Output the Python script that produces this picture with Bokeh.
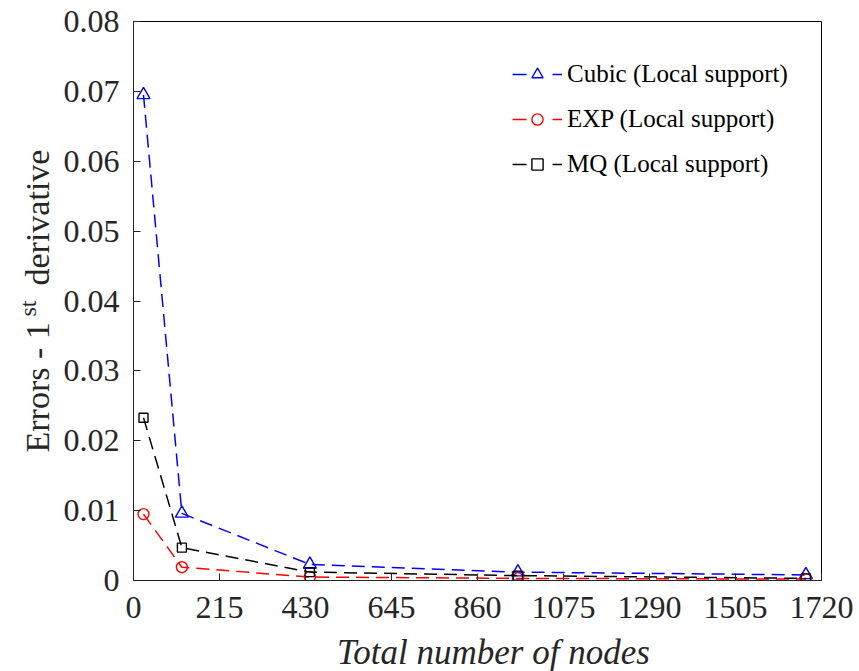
import math
from bokeh.plotting import figure
from bokeh.layouts import row, column
from bokeh.models import (FixedTicker, NumeralTickFormatter, Legend, LegendItem,
                          ColumnDataSource, Range1d)
from bokeh.core.properties import value
from bokeh.embed import file_html
from bokeh.resources import INLINE

# ---- data ----
nodes = [25, 121, 441, 961, 1681]
cubic = [0.0695, 0.0096, 0.0023, 0.0012, 0.0008]
expo = [0.0095, 0.0019, 0.0005, 0.0003, 0.0002]
mq = [0.0233, 0.0047, 0.0012, 0.0007, 0.0003]
x_ticks = [0, 215, 430, 645, 860, 1075, 1290, 1505, 1720]
y_ticks = [0, 0.01, 0.02, 0.03, 0.04, 0.05, 0.06, 0.07, 0.08]
labels = ["Cubic (Local support)", "EXP (Local support)", "MQ (Local support)"]
x_title = "Total number of nodes"
y_title_parts = ["Errors - 1", "st", "derivative"]

FONT = "Liberation Serif"
AX = "#262626"
W, H = 859, 671
LEFT_W = 60          # width of the y-title strip
BOTTOM_H = 39        # height of the x-title strip


def bare(fig):
    fig.axis.visible = False
    fig.xgrid.visible = False
    fig.ygrid.visible = False
    fig.outline_line_color = None
    fig.background_fill_color = "white"
    fig.border_fill_color = "white"
    fig.min_border = 0


# ---- main plot ----
p = figure(width=W - LEFT_W, height=H - BOTTOM_H, output_backend="svg",
           toolbar_location=None,
           x_range=Range1d(0, 1720), y_range=Range1d(0, 0.08),
           min_border_left=70, min_border_right=38, min_border_top=21,
           min_border_bottom=52)
p.background_fill_color = "white"
p.border_fill_color = "white"
p.outline_line_color = "black"
p.outline_line_width = 1
p.xgrid.visible = False
p.ygrid.visible = False

for ax in (p.xaxis[0], p.yaxis[0]):
    ax.major_tick_in = 7
    ax.major_tick_out = 0
    ax.minor_tick_line_color = None
    ax.axis_line_color = AX
    ax.major_tick_line_color = AX
    ax.major_label_text_font = FONT
    ax.major_label_text_font_size = "32px"
    ax.major_label_text_color = AX
p.xaxis.major_label_standoff = 16
p.yaxis.major_label_standoff = 14

p.xaxis.ticker = FixedTicker(ticks=x_ticks)
p.yaxis.ticker = FixedTicker(ticks=y_ticks)
p.yaxis.formatter = NumeralTickFormatter(format="0.[00]")

series = [
    (cubic, "blue", "triangle", 13),
    (expo, "red", "circle", 11),
    (mq, "black", "square", 9),
]

items = []
for (vals, col, mk, sz), lab in zip(series, labels):
    src = ColumnDataSource(dict(x=nodes, y=vals))
    p.line("x", "y", source=src, line_color=col, line_width=1.5, line_dash="13 7")
    p.scatter("x", "y", source=src, marker=mk, size=sz, line_color=col,
              fill_color=None, line_width=1.4)
    # legend-only renderers (placed outside the visible range)
    off = ColumnDataSource(dict(x=[-1000], y=[-1]))
    lr = p.line("x", "y", source=off, line_color=col, line_width=1.5, line_dash="14 26")
    sr = p.scatter("x", "y", source=off, marker=mk, size=sz, line_color=col,
                   fill_color=None, line_width=1.4)
    items.append(LegendItem(label=lab, renderers=[lr, sr]))

legend = Legend(items=items, location=(379, 402), border_line_color=None,
                background_fill_alpha=0, padding=0, margin=0,
                glyph_width=50, glyph_height=28, label_height=28,
                label_standoff=5, spacing=17,
                label_text_font=FONT, label_text_font_size="25px",
                label_text_color="black")
p.add_layout(legend)

# ---- y title strip (with superscript) ----
yl = figure(width=LEFT_W, height=H, output_backend="svg", toolbar_location=None,
            x_range=Range1d(0, LEFT_W), y_range=Range1d(0, H))
bare(yl)
common = dict(angle=math.pi / 2, text_font=value(FONT), text_color=AX,
              text_align="left", text_baseline="middle")
yl.text(x=[37], y=[H - 452], text=[y_title_parts[0]],
        text_font_size=value("34px"), **common)
yl.text(x=[27], y=[H - 316], text=[y_title_parts[1]],
        text_font_size=value("24px"), **common)
yl.text(x=[37], y=[H - 285], text=[y_title_parts[2]],
        text_font_size=value("34px"), **common)

# ---- x title strip ----
xl = figure(width=W - LEFT_W, height=BOTTOM_H, output_backend="svg",
            toolbar_location=None,
            x_range=Range1d(0, W - LEFT_W), y_range=Range1d(0, BOTTOM_H))
bare(xl)
xl.text(x=[478 - LEFT_W], y=[BOTTOM_H / 2], text=[x_title],
        text_font=value(FONT), text_font_size=value("35px"), text_color=AX,
        text_font_style="italic", text_align="center", text_baseline="middle")

layout = row(yl, column(p, xl, spacing=0), spacing=0)
open("out.html", "w").write(file_html(layout, INLINE))
